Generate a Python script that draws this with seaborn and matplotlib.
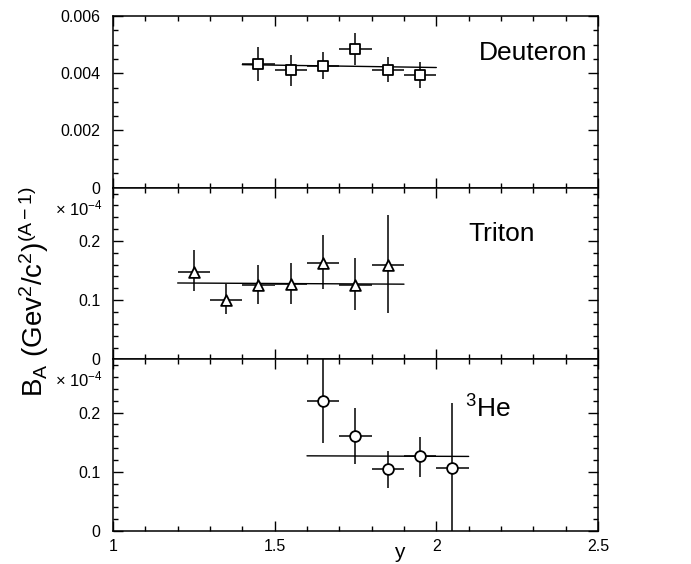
import numpy as np
import pandas as pd
import seaborn as sns
import matplotlib.pyplot as plt
from matplotlib.ticker import MultipleLocator, FixedLocator

###################################################
''' Data read off the figure '''
###################################################

# Deuteron (absolute values)
x_deut = [1.45, 1.55, 1.65, 1.75, 1.85, 1.95]
b_deut = [0.00433, 0.00410, 0.00427, 0.00484, 0.00412, 0.00395]
err_deut = [0.00060, 0.00055, 0.00048, 0.00055, 0.00044, 0.00045]
fit_deut_x = [1.4, 2.0]
fit_deut_y = [0.00430, 0.00420]

# Triton (units of 1e-4)
x_trit = [1.25, 1.35, 1.45, 1.55, 1.65, 1.75, 1.85]
b_trit = [0.147, 0.100, 0.126, 0.127, 0.162, 0.125, 0.160]
lo_trit = [0.115, 0.076, 0.094, 0.093, 0.118, 0.084, 0.079]
hi_trit = [0.185, 0.128, 0.159, 0.162, 0.210, 0.171, 0.244]
fit_trit_x = [1.2, 1.9]
fit_trit_y = [0.129, 0.127]

# 3He (units of 1e-4)
x_he3 = [1.65, 1.75, 1.85, 1.95, 2.05]
b_he3 = [0.219, 0.161, 0.105, 0.127, 0.107]
lo_he3 = [0.149, 0.113, 0.073, 0.092, 0.0]
hi_he3 = [0.290, 0.207, 0.136, 0.159, 0.216]
fit_he3_x = [1.6, 2.1]
fit_he3_y = [0.127, 0.126]

x_halfwidth = 0.05

sns.set_style("ticks")
plt.rcParams['font.family'] = ['Liberation Sans', 'DejaVu Sans']
plt.rcParams['mathtext.fontset'] = 'custom'
plt.rcParams['mathtext.rm'] = 'Liberation Sans'
plt.rcParams['mathtext.it'] = 'Liberation Sans'
for key in ['text.color', 'axes.labelcolor', 'xtick.color', 'ytick.color']:
    plt.rcParams[key] = 'black'

fig, axes = plt.subplots(3, 1, sharex=True, figsize=(6.91, 5.64), dpi=100)
fig.subplots_adjust(left=0.1635, right=0.8654, top=0.9716, bottom=0.0585, hspace=0)

panels = [
    (x_deut, b_deut, [err_deut, err_deut], fit_deut_x, fit_deut_y, 's'),
    (x_trit, b_trit, [np.array(b_trit) - np.array(lo_trit), np.array(hi_trit) - np.array(b_trit)],
     fit_trit_x, fit_trit_y, '^'),
    (x_he3, b_he3, [np.array(b_he3) - np.array(lo_he3), np.array(hi_he3) - np.array(b_he3)],
     fit_he3_x, fit_he3_y, 'o'),
]

for i, (xs, ys, yerr, fx, fy, mk) in enumerate(panels):
    ax = axes[i]
    ax.errorbar(xs, ys, xerr=x_halfwidth, yerr=yerr, fmt='none', ecolor='black',
                elinewidth=1.1, capsize=0, zorder=2)
    fit_df = pd.DataFrame({'x': fx, 'y': fy})
    sns.lineplot(data=fit_df, x='x', y='y', color='black', linewidth=1.0, ax=ax, zorder=2)
    df = pd.DataFrame({'x': xs, 'y': ys})
    sns.scatterplot(data=df, x='x', y='y', marker=mk, s=60, facecolor='white',
                    edgecolor='black', linewidth=1.3, zorder=3, ax=ax)
    ax.set_xlabel('')
    ax.set_ylabel('')
    ax.set_xlim(1, 2.5)
    ax.xaxis.set_major_locator(MultipleLocator(0.5))
    ax.xaxis.set_minor_locator(MultipleLocator(0.1))
    ax.tick_params(which='both', direction='in', top=True, right=True, labelsize=11.5, width=1)
    ax.tick_params(axis='y', which='both', pad=9)
    ax.tick_params(axis='x', which='both', pad=6)
    ax.tick_params(which='major', length=7)
    ax.tick_params(which='minor', length=3.5)
    for sp in ax.spines.values():
        sp.set_linewidth(1.1)
        sp.set_color('black')

# y axes
axes[0].set_ylim(0, 0.006)
axes[0].yaxis.set_major_locator(FixedLocator([0, 0.002, 0.004, 0.006]))
axes[0].yaxis.set_minor_locator(MultipleLocator(0.0005))
axes[0].set_yticklabels(['0', '0.002', '0.004', '0.006'])
for ax in axes[1:]:
    ax.set_ylim(0, 0.29)
    ax.yaxis.set_major_locator(FixedLocator([0, 0.1, 0.2]))
    ax.yaxis.set_minor_locator(MultipleLocator(0.02))
    ax.set_yticklabels(['0', '0.1', '0.2'])
    ax.text(-0.02, 0.88, r'× 10$^{-4}$', transform=ax.transAxes, ha='right', va='center',
            fontsize=12)

axes[2].set_xticks([1, 1.5, 2, 2.5])
axes[2].set_xticklabels(['1', '1.5', '2', '2.5'])
axes[2].set_xlabel('y', fontsize=15)
axes[2].xaxis.set_label_coords(0.59, -0.07)

# particle names
axes[0].text(0.979, 0.785, 'Deuteron', transform=axes[0].transAxes, ha='right', va='center',
             fontsize=19)
axes[1].text(0.732, 0.73, 'Triton', transform=axes[1].transAxes, ha='left', va='center',
             fontsize=19)
axes[2].text(0.725, 0.71, r'$^3$He', transform=axes[2].transAxes, ha='left', va='center',
             fontsize=19)

fig.text(0.049, 0.482, r'B$_\mathrm{A}$ (Gev$^2$/c$^2$)$^{(\mathrm{A-1})}$', rotation=90,
         ha='center', va='center', fontsize=20)

plt.savefig('out.png', dpi=100)
